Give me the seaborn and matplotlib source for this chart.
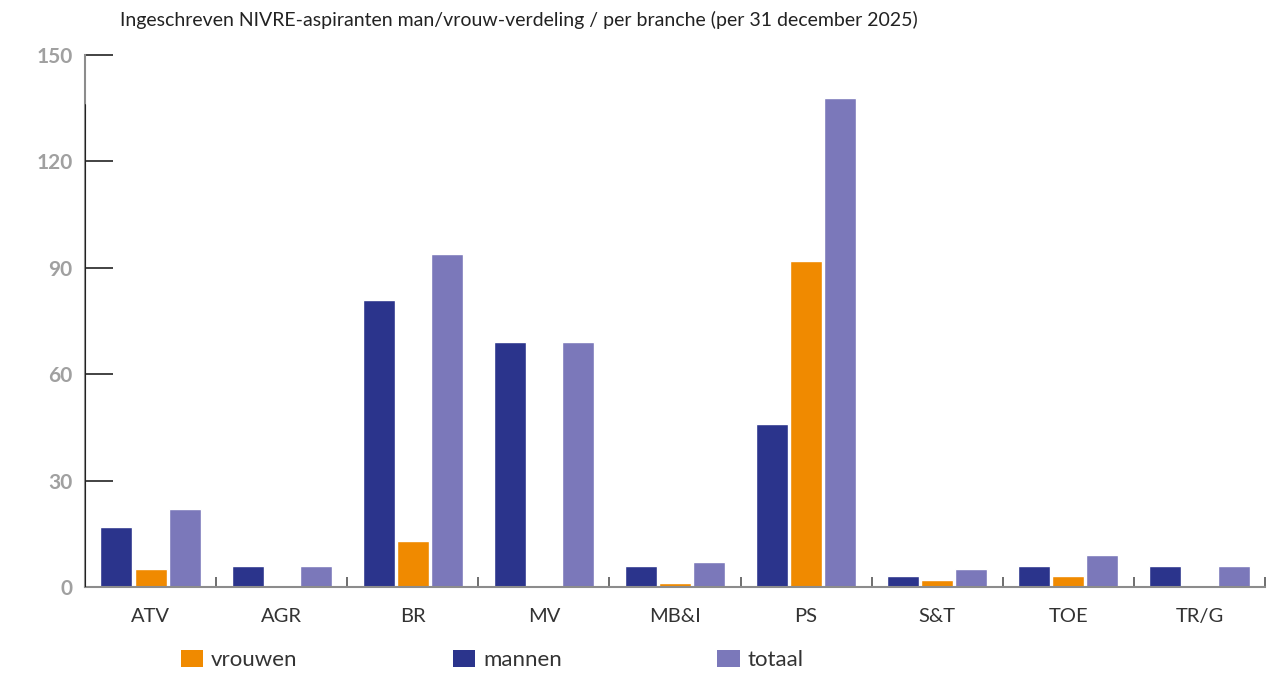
import matplotlib
matplotlib.use("Agg")
import matplotlib.pyplot as plt
import matplotlib.patches as mpatches
import numpy as np
import pandas as pd
import seaborn as sns

# Branches and counts per group
branches = ["ATV", "AGR", "BR", "MV", "MB&I", "PS", "S&T", "TOE", "TR/G"]
mannen = [17, 6, 81, 69, 6, 46, 3, 6, 6]
vrouwen = [5, 0, 13, 0, 1, 92, 2, 3, 0]
totaal = [22, 6, 94, 69, 7, 138, 5, 9, 6]

groups = ["mannen", "vrouwen", "totaal"]
legend_order = ["vrouwen", "mannen", "totaal"]
colors = {"mannen": "#2B348C", "vrouwen": "#F08A00", "totaal": "#7B78BA"}
yticks = [0, 30, 60, 90, 120, 150]
title = "Ingeschreven NIVRE-aspiranten man/vrouw-verdeling / per branche (per 31 december 2025)"

df = pd.DataFrame({
    "branche": branches * 3,
    "groep": ["mannen"] * 9 + ["vrouwen"] * 9 + ["totaal"] * 9,
    "aantal": mannen + vrouwen + totaal,
})

sns.set_theme(style="white")
plt.rcParams["font.family"] = ["Lato", "DejaVu Sans"]

fig = plt.figure(figsize=(12.68, 6.75), dpi=100)
ax = fig.add_axes([85 / 1268, 88 / 675, 1180 / 1268, 532 / 675])

sns.barplot(data=df, x="branche", y="aantal", hue="groep", order=branches,
            hue_order=groups, palette=colors, width=0.78, gap=0.06,
            saturation=1, errorbar=None, legend=False, ax=ax)

ax.set_xlim(-0.5, len(branches) - 0.5)
ax.set_ylim(0, 150)
ax.set_xlabel("")
ax.set_ylabel("")

for side in ["top", "right"]:
    ax.spines[side].set_visible(False)
ax.spines["left"].set_color("#8C8C8C")
ax.spines["left"].set_linewidth(1.5)
ax.spines["bottom"].set_color("#8C8C8C")
ax.spines["bottom"].set_linewidth(1.5)
ax.axvline(-0.5, ymin=0, ymax=136 / 150, color="#222222", lw=1.5, zorder=3)

# y axis: inward ticks, grey bold labels
ax.set_yticks(yticks)
ax.tick_params(axis="y", direction="in", length=20, width=1.2, color="#222222",
               pad=9, labelsize=15, labelcolor="#A0A0A0", left=True)
for lbl in ax.get_yticklabels():
    lbl.set_fontweight("bold")
ax.yaxis.get_major_ticks()[-1].tick1line.set_color("#8C8C8C")

# x axis: labels at centres, small dividers between branches
ax.set_xticks(range(len(branches)))
ax.set_xticklabels(branches)
ax.tick_params(axis="x", which="major", length=0, pad=15, labelsize=14.5,
               labelcolor="#333333")
ax.set_xticks(np.arange(-0.5, len(branches), 1.0), minor=True)
ax.tick_params(axis="x", which="minor", direction="in", length=7, width=1.2,
               color="#555555", bottom=True)

fig.text(120 / 1268, 1 - 20 / 675, title, fontsize=14, color="#222222",
         ha="left", va="center")

handles = [mpatches.Patch(facecolor=colors[g], edgecolor="none", label=g)
           for g in legend_order]
fig.legend(handles=handles, loc="center left",
           bbox_to_anchor=(181 / 1268, 1 - 660 / 675), ncol=3, frameon=False,
           fontsize=16, handlelength=1.0, handleheight=0.85, handletextpad=0.35,
           columnspacing=7.0, borderpad=0, borderaxespad=0,
           labelcolor="#333333")

fig.savefig("out.png", dpi=100)
